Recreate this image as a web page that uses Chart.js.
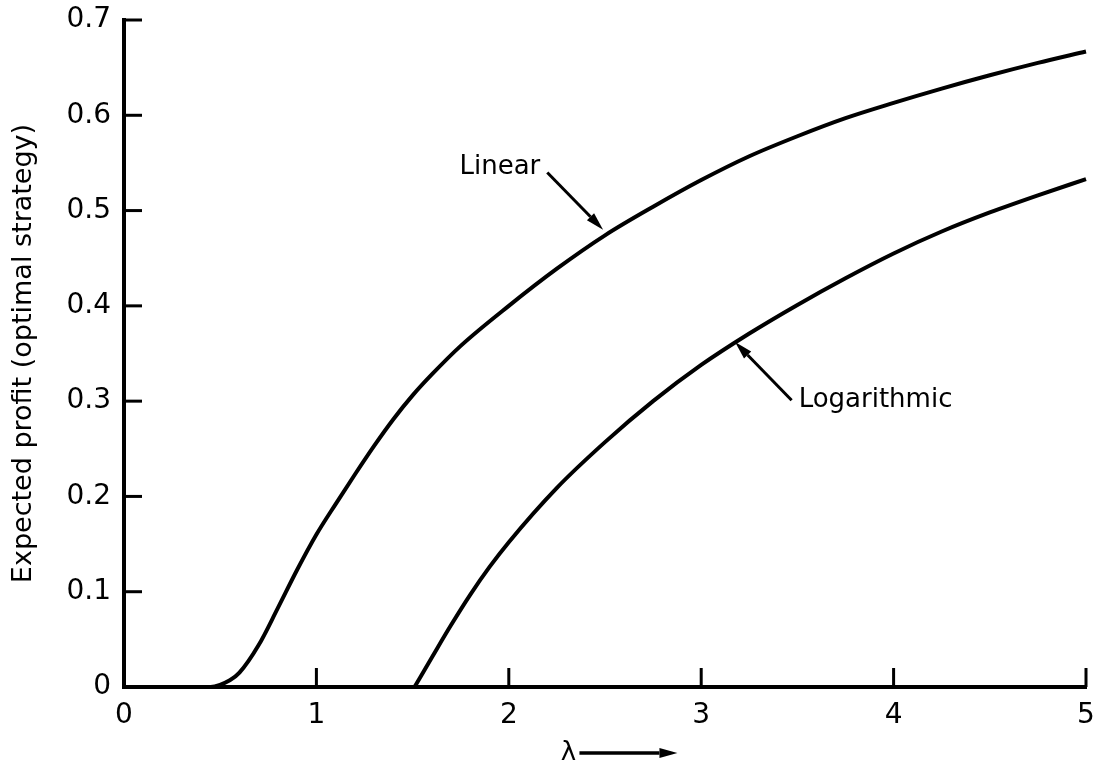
<!DOCTYPE html>
<html>
<head>
<meta charset="utf-8">
<script src="https://cdn.jsdelivr.net/npm/chart.js@4.4.1/dist/chart.umd.min.js"></script>
<style>
  html, body { margin: 0; padding: 0; background: #fff; }
  #wrap { width: 1097px; height: 767px; }
</style>
</head>
<body>
<div id="wrap"><canvas id="profitChart"></canvas></div>
<script>
// Expected profit (optimal strategy) vs lambda
// =====================================================

// Linear utility curve
const lambdaLinear = [0, 0.45, 0.55, 0.6, 0.7, 0.8, 0.9, 1.0, 1.1, 1.2, 1.3, 1.4, 1.5, 1.6, 1.75, 2.0, 2.25, 2.5, 2.75, 3.0, 3.25, 3.5, 3.75, 4.0, 4.25, 4.5, 4.75, 5.0];
const profitLinear = [0, 0, 0.007, 0.015, 0.044, 0.083, 0.123, 0.160, 0.192, 0.223, 0.253, 0.281, 0.306, 0.328, 0.358, 0.400, 0.439, 0.474, 0.504, 0.532, 0.557, 0.578, 0.597, 0.613, 0.628, 0.642, 0.655, 0.667];

// Logarithmic utility curve
const lambdaLog = [1.51, 1.6, 1.7, 1.8, 1.9, 2.0, 2.25, 2.5, 2.75, 3.0, 3.25, 3.5, 3.75, 4.0, 4.25, 4.5, 4.75, 5.0];
const profitLog = [0, 0.031, 0.065, 0.097, 0.126, 0.152, 0.209, 0.257, 0.300, 0.338, 0.371, 0.401, 0.429, 0.455, 0.478, 0.498, 0.516, 0.533];

// Axis ticks
const xTicks = [0, 1, 2, 3, 4, 5];
const xTickLabels = ['0', '1', '2', '3', '4', '5'];
const yTicks = [0, 0.1, 0.2, 0.3, 0.4, 0.5, 0.6, 0.7];
const yTickLabels = ['0', '0.1', '0.2', '0.3', '0.4', '0.5', '0.6', '0.7'];

const yTitle = 'Expected profit (optimal strategy)';
const xTitle = 'λ';

// Curve call-outs (text + arrow in data units)
const callouts = [
  { text: 'Linear', tail: [2.2, 0.54], tip: [2.49, 0.48], align: 'right' },
  { text: 'Logarithmic', tail: [3.47, 0.301], tip: [3.176, 0.362], align: 'left' }
];

const FONT = '"DejaVu Sans", sans-serif';
Chart.defaults.font.family = FONT;
Chart.defaults.color = '#000';

function toPoints(xs, ys) {
  return xs.map((x, i) => ({ x: x, y: ys[i] }));
}

function drawArrow(ctx, x1, y1, x2, y2, head, width) {
  const ang = Math.atan2(y2 - y1, x2 - x1);
  const bx = x2 - head * Math.cos(ang);
  const by = y2 - head * Math.sin(ang);
  ctx.beginPath();
  ctx.moveTo(x1, y1);
  ctx.lineTo(bx, by);
  ctx.stroke();
  ctx.beginPath();
  ctx.moveTo(x2, y2);
  ctx.lineTo(bx + width / 2 * Math.sin(ang), by - width / 2 * Math.cos(ang));
  ctx.lineTo(bx - width / 2 * Math.sin(ang), by + width / 2 * Math.cos(ang));
  ctx.closePath();
  ctx.fill();
}

// Inward tick marks, curve labels and the lambda arrow
const decorPlugin = {
  id: 'decor',
  afterDraw(chart) {
    const ctx = chart.ctx;
    const xs = chart.scales.x;
    const ys = chart.scales.y;
    ctx.save();
    ctx.strokeStyle = '#000';
    ctx.fillStyle = '#000';
    ctx.lineWidth = 3;

    ys.ticks.forEach(t => {
      if (t.value === 0) return;
      const py = ys.getPixelForValue(t.value);
      ctx.beginPath();
      ctx.moveTo(xs.left, py);
      ctx.lineTo(xs.left + 18, py);
      ctx.stroke();
    });
    xs.ticks.forEach(t => {
      if (t.value === 0) return;
      const px = xs.getPixelForValue(t.value);
      ctx.beginPath();
      ctx.moveTo(px, ys.bottom);
      ctx.lineTo(px, ys.bottom - 19);
      ctx.stroke();
    });

    // call-outs
    ctx.font = '26px ' + FONT;
    ctx.textBaseline = 'middle';
    ctx.lineWidth = 3;
    callouts.forEach(c => {
      const tx = xs.getPixelForValue(c.tail[0]);
      const ty = ys.getPixelForValue(c.tail[1]);
      const hx = xs.getPixelForValue(c.tip[0]);
      const hy = ys.getPixelForValue(c.tip[1]);
      drawArrow(ctx, tx, ty, hx, hy, 18, 10);
      ctx.textAlign = c.align;
      const off = c.align === 'right' ? -7 : 7;
      ctx.fillText(c.text, tx + off, ty - (c.align === 'right' ? 5 : 0));
    });

    // lambda axis title with arrow
    ctx.font = '26px ' + FONT;
    ctx.textAlign = 'center';
    const lx = xs.getPixelForValue(2.31);
    const ly = ys.bottom + 66;
    ctx.fillText(xTitle, lx, ly);
    ctx.lineWidth = 3.5;
    drawArrow(ctx, lx + 11, ly, lx + 109, ly, 18, 10);
    ctx.restore();
  }
};

const ctx = document.getElementById('profitChart');

new Chart(ctx, {
  type: 'line',
  data: {
    datasets: [
      {
        label: 'Linear',
        data: toPoints(lambdaLinear, profitLinear),
        borderColor: '#000',
        borderWidth: 4,
        pointRadius: 0,
        cubicInterpolationMode: 'monotone',
        fill: false
      },
      {
        label: 'Logarithmic',
        data: toPoints(lambdaLog, profitLog),
        borderColor: '#000',
        borderWidth: 4,
        pointRadius: 0,
        cubicInterpolationMode: 'monotone',
        fill: false
      }
    ]
  },
  options: {
    responsive: true,
    maintainAspectRatio: false,
    animation: false,
    clip: false,
    layout: {
      padding: { top: 20, right: 11, left: 0, bottom: 0 }
    },
    plugins: {
      legend: { display: false },
      tooltip: { enabled: false }
    },
    scales: {
      x: {
        type: 'linear',
        min: 0,
        max: 5,
        afterBuildTicks: scale => { scale.ticks = xTicks.map(v => ({ value: v })); },
        afterFit: scale => {
          scale.height = 80;
          scale.paddingLeft = 0;
          scale.paddingRight = 0;
        },
        grid: { drawOnChartArea: false, drawTicks: false },
        border: { color: '#000', width: 4 },
        ticks: {
          padding: 12,
          font: { size: 28 },
          callback: (v, i) => xTickLabels[i]
        }
      },
      y: {
        min: 0,
        max: 0.7,
        afterBuildTicks: scale => { scale.ticks = yTicks.map(v => ({ value: v })); },
        afterFit: scale => {
          scale.width = 124;
          scale.paddingTop = 0;
          scale.paddingBottom = 0;
        },
        grid: { drawOnChartArea: false, drawTicks: false },
        border: { color: '#000', width: 4 },
        ticks: {
          padding: 13,
          font: { size: 28 },
          callback: (v, i) => yTickLabels[i]
        },
        title: {
          display: true,
          text: yTitle,
          font: { size: 27 },
          padding: { top: 8, bottom: 0 }
        }
      }
    }
  },
  plugins: [decorPlugin]
});
</script>
</body>
</html>
